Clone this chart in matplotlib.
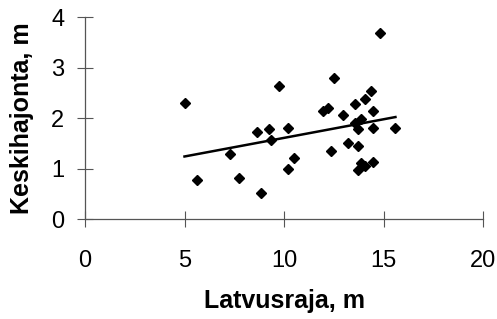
import numpy as np
import matplotlib
matplotlib.use('Agg')
import matplotlib.pyplot as plt

plt.rcParams['font.family'] = ['Liberation Sans', 'DejaVu Sans']

# Latvusraja (m) vs Keskihajonta (m)
latvusraja = [5.00, 5.64, 7.28, 7.74, 8.63, 8.86, 9.23, 9.33, 9.75, 10.22, 10.22,
              10.49, 11.98, 12.23, 12.34, 12.49, 12.96, 13.21, 13.56, 13.58, 13.73,
              13.73, 13.73, 13.85, 13.85, 14.08, 14.08, 14.35, 14.47, 14.47, 14.47,
              14.82, 15.60]
keskihajonta = [2.31, 0.77, 1.29, 0.82, 1.72, 0.53, 1.79, 1.58, 2.63, 1.81, 1.00,
                1.21, 2.14, 2.21, 1.35, 2.80, 2.07, 1.52, 2.29, 1.90, 1.79,
                1.46, 0.98, 1.98, 1.11, 2.38, 1.06, 2.55, 2.14, 1.80, 1.13,
                3.69, 1.81]
x_ticks = [0, 5, 10, 15, 20]
y_ticks = [0, 1, 2, 3, 4]

x = np.array(latvusraja)
y = np.array(keskihajonta)
k, b = np.polyfit(x, y, 1)
xl = np.array([x.min(), x.max()])

fig = plt.figure(figsize=(4.97, 3.19), dpi=100)
ax = fig.add_axes([85 / 497, 1 - 219.3 / 319, 398 / 497, 202 / 319])

ax.plot(xl, k * xl + b, color='black', linewidth=1.8)
ax.plot(x, y, linestyle='none', marker='D', markersize=5.5, color='black')

ax.set_xlim(0, 20)
ax.set_ylim(0, 4)
ax.set_xticks(x_ticks)
ax.set_yticks(y_ticks)
for s in ['top', 'right']:
    ax.spines[s].set_visible(False)
for s in ['left', 'bottom']:
    ax.spines[s].set_color('#555555')
    ax.spines[s].set_linewidth(0.9)
ax.tick_params(axis='both', direction='inout', length=12, width=0.8, color='#555555',
               labelsize=17)
ax.tick_params(axis='x', pad=16)
ax.tick_params(axis='y', pad=9)

ax.set_xlabel('Latvusraja, m', fontsize=18, fontweight='bold', labelpad=12)
ax.set_ylabel('Keskihajonta, m', fontsize=18, fontweight='bold', labelpad=12)

fig.savefig('out.png', dpi=100)
